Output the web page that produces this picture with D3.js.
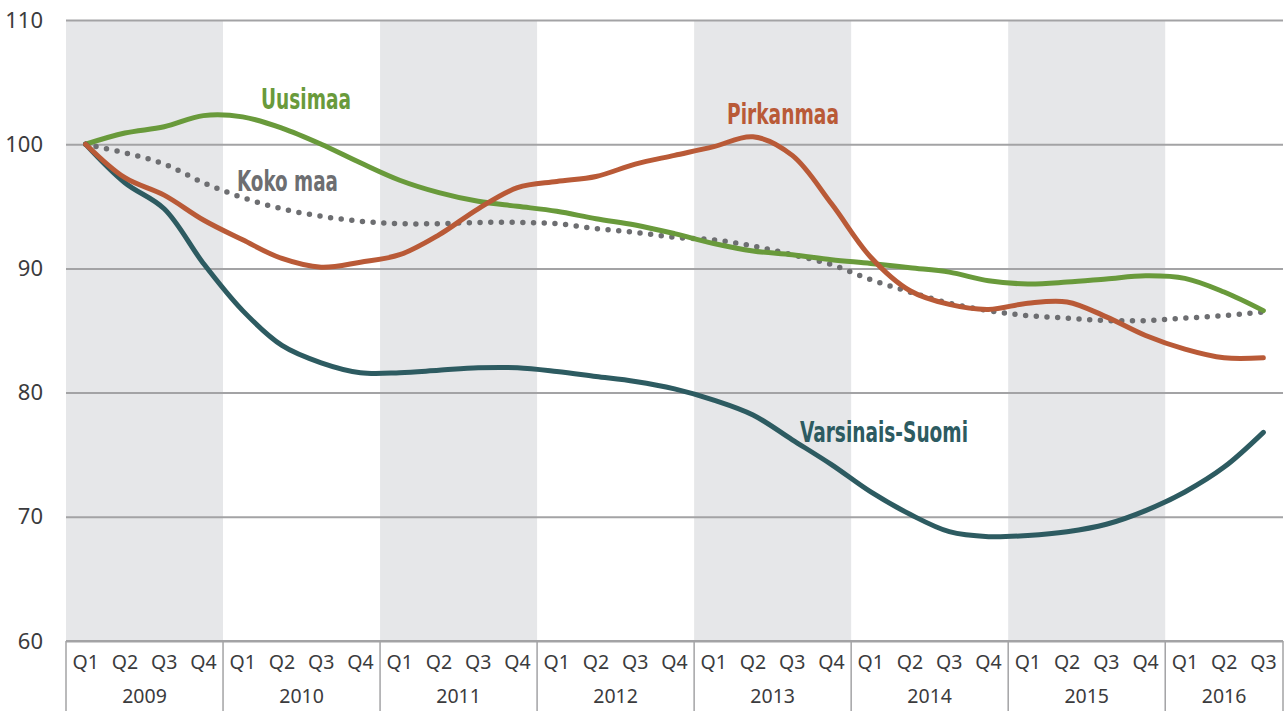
<!DOCTYPE html>
<html>
<head>
<meta charset="utf-8">
<script src="https://cdn.jsdelivr.net/npm/d3@7"></script>
<style>
  body { margin: 0; background: #fff; }
  svg { display: block; }
</style>
</head>
<body>
<svg id="svg" width="1287" height="711"></svg>
<script>
// quarters 2009Q1 .. 2016Q3
let years = ["2009", "2010", "2011", "2012", "2013", "2014", "2015", "2016"];
let quartersPerYear = [4, 4, 4, 4, 4, 4, 4, 3];
let quarterNames = ["Q1", "Q2", "Q3", "Q4"];
let yTicks = [60, 70, 80, 90, 100, 110];

let uusimaa = [100, 100.9, 101.4, 102.3, 102.2, 101.3, 100.0, 98.5, 97.1, 96.1, 95.4, 95.0, 94.6, 94.0, 93.5, 92.8,
	92.0, 91.4, 91.1, 90.7, 90.4, 90.05, 89.7, 89.0, 88.75, 88.9, 89.15, 89.4, 89.2, 88.1, 86.6];
let pirkanmaa = [100, 97.3, 95.9, 93.9, 92.3, 90.8, 90.1, 90.5, 91.1, 92.7, 94.8, 96.5, 97.0, 97.4, 98.4, 99.1,
	99.8, 100.6, 99.1, 95.2, 90.9, 88.2, 87.1, 86.7, 87.2, 87.3, 86.1, 84.6, 83.5, 82.8, 82.8];
let varsinaisSuomi = [100, 96.9, 94.8, 90.4, 86.6, 83.8, 82.4, 81.6, 81.6, 81.8, 82.0, 82.0, 81.7, 81.3, 80.9, 80.3,
	79.4, 78.2, 76.2, 74.2, 72.0, 70.2, 68.8, 68.4, 68.5, 68.8, 69.4, 70.5, 72.0, 74.0, 76.8];
let kokoMaa = [100, 99.3, 98.4, 96.9, 95.7, 94.8, 94.2, 93.8, 93.6, 93.6, 93.7, 93.7, 93.6, 93.2, 92.9, 92.5,
	92.3, 91.8, 91.1, 90.3, 89.1, 88.1, 87.2, 86.6, 86.2, 86.0, 85.8, 85.8, 86.0, 86.2, 86.5];

// build quarter keys
let quarters = [];
years.forEach(function(y, i) {
	for (let q = 0; q < quartersPerYear[i]; q++) quarters.push({year: y, q: quarterNames[q], key: y + quarterNames[q]});
});

let svg = d3.select("#svg");
let plot = {left: 66, right: 1283, top: 20, bottom: 641};
let gridColor = "#a3a3a5";
let textColor = "#3b3b3d";
let tickFont = "'Noto Sans', 'Open Sans', sans-serif";
let labelFont = "'Liberation Sans Narrow', 'DejaVu Sans Condensed', 'Roboto', sans-serif";

let xScale = d3.scaleBand()
	.domain(quarters.map(d => d.key))
	.range([plot.left, plot.right])
	.padding(0);

let yScale = d3.scaleLinear()
	.domain([60, 110])
	.range([plot.bottom, plot.top]);

function xMid(i) { return xScale(quarters[i].key) + xScale.bandwidth() / 2; }

// year bands
let yearBands = years.map(function(y) {
	let qs = quarters.filter(d => d.year === y);
	return {year: y, x0: xScale(qs[0].key), x1: xScale(qs[qs.length - 1].key) + xScale.bandwidth()};
});

svg.append("g").selectAll("rect").data(yearBands.filter((d, i) => i % 2 === 0)).enter()
	.append("rect")
	.attr("x", d => d.x0)
	.attr("width", d => d.x1 - d.x0)
	.attr("y", plot.top)
	.attr("height", plot.bottom - plot.top)
	.attr("fill", "#e6e7e9");

// y grid + labels
let yAxis = svg.append("g")
	.attr("transform", "translate(" + plot.left + ",0)")
	.call(d3.axisLeft(yScale).tickValues(yTicks).tickSize(-(plot.right - plot.left)).tickPadding(23));
yAxis.select(".domain").remove();
yAxis.selectAll(".tick line").attr("stroke", gridColor).attr("stroke-width", 2);
yAxis.selectAll(".tick text")
	.attr("fill", textColor)
	.style("font-family", tickFont)
	.style("font-size", "22px");

// x axis: base line, separators, quarter and year labels
let xAxis = svg.append("g");
xAxis.append("line")
	.attr("x1", plot.left).attr("x2", plot.right)
	.attr("y1", plot.bottom).attr("y2", plot.bottom)
	.attr("stroke", gridColor).attr("stroke-width", 2);

let separators = yearBands.map(d => d.x0).concat([yearBands[yearBands.length - 1].x1]);
xAxis.selectAll("line.sep").data(separators).enter()
	.append("line")
	.attr("class", "sep")
	.attr("x1", d => d).attr("x2", d => d)
	.attr("y1", plot.bottom).attr("y2", 711)
	.attr("stroke", gridColor).attr("stroke-width", 1.5);

xAxis.selectAll("text.q").data(quarters).enter()
	.append("text")
	.attr("class", "q")
	.attr("x", (d, i) => xMid(i))
	.attr("y", 669)
	.attr("text-anchor", "middle")
	.attr("fill", textColor)
	.style("font-family", tickFont)
	.style("font-size", "19.5px")
	.text(d => d.q);

xAxis.selectAll("text.yr").data(yearBands).enter()
	.append("text")
	.attr("class", "yr")
	.attr("x", d => (d.x0 + d.x1) / 2)
	.attr("y", 703)
	.attr("text-anchor", "middle")
	.attr("fill", textColor)
	.style("font-family", tickFont)
	.style("font-size", "19.5px")
	.text(d => d.year);

// lines
let line = d3.line()
	.x((d, i) => xMid(i))
	.y(d => yScale(d))
	.curve(d3.curveCatmullRom.alpha(0.5));

let series = [
	{name: "Koko maa", values: kokoMaa, color: "#6d6e71", dotted: true, lx: 237, ly: 191, lw: 101},
	{name: "Uusimaa", values: uusimaa, color: "#699a3b", lx: 261, ly: 109, lw: 90},
	{name: "Varsinais-Suomi", values: varsinaisSuomi, color: "#2d5b61", lx: 800, ly: 442, lw: 168},
	{name: "Pirkanmaa", values: pirkanmaa, color: "#b95a37", lx: 727, ly: 124, lw: 112}
];

svg.append("g").selectAll("path").data(series).enter()
	.append("path")
	.attr("d", d => line(d.values))
	.attr("fill", "none")
	.attr("stroke", d => d.color)
	.attr("stroke-width", d => d.dotted ? 5.5 : 5)
	.attr("stroke-linecap", "round")
	.attr("stroke-dasharray", d => d.dotted ? "0 10.7" : null);

// series names
svg.append("g").selectAll("text").data(series).enter()
	.append("text")
	.attr("x", d => d.lx)
	.attr("y", d => d.ly)
	.attr("fill", d => d.color)
	.attr("textLength", d => d.lw)
	.attr("lengthAdjust", "spacingAndGlyphs")
	.style("font-family", labelFont)
	.style("font-weight", "bold")
	.style("font-size", "29px")
	.text(d => d.name);
</script>
</body>
</html>
